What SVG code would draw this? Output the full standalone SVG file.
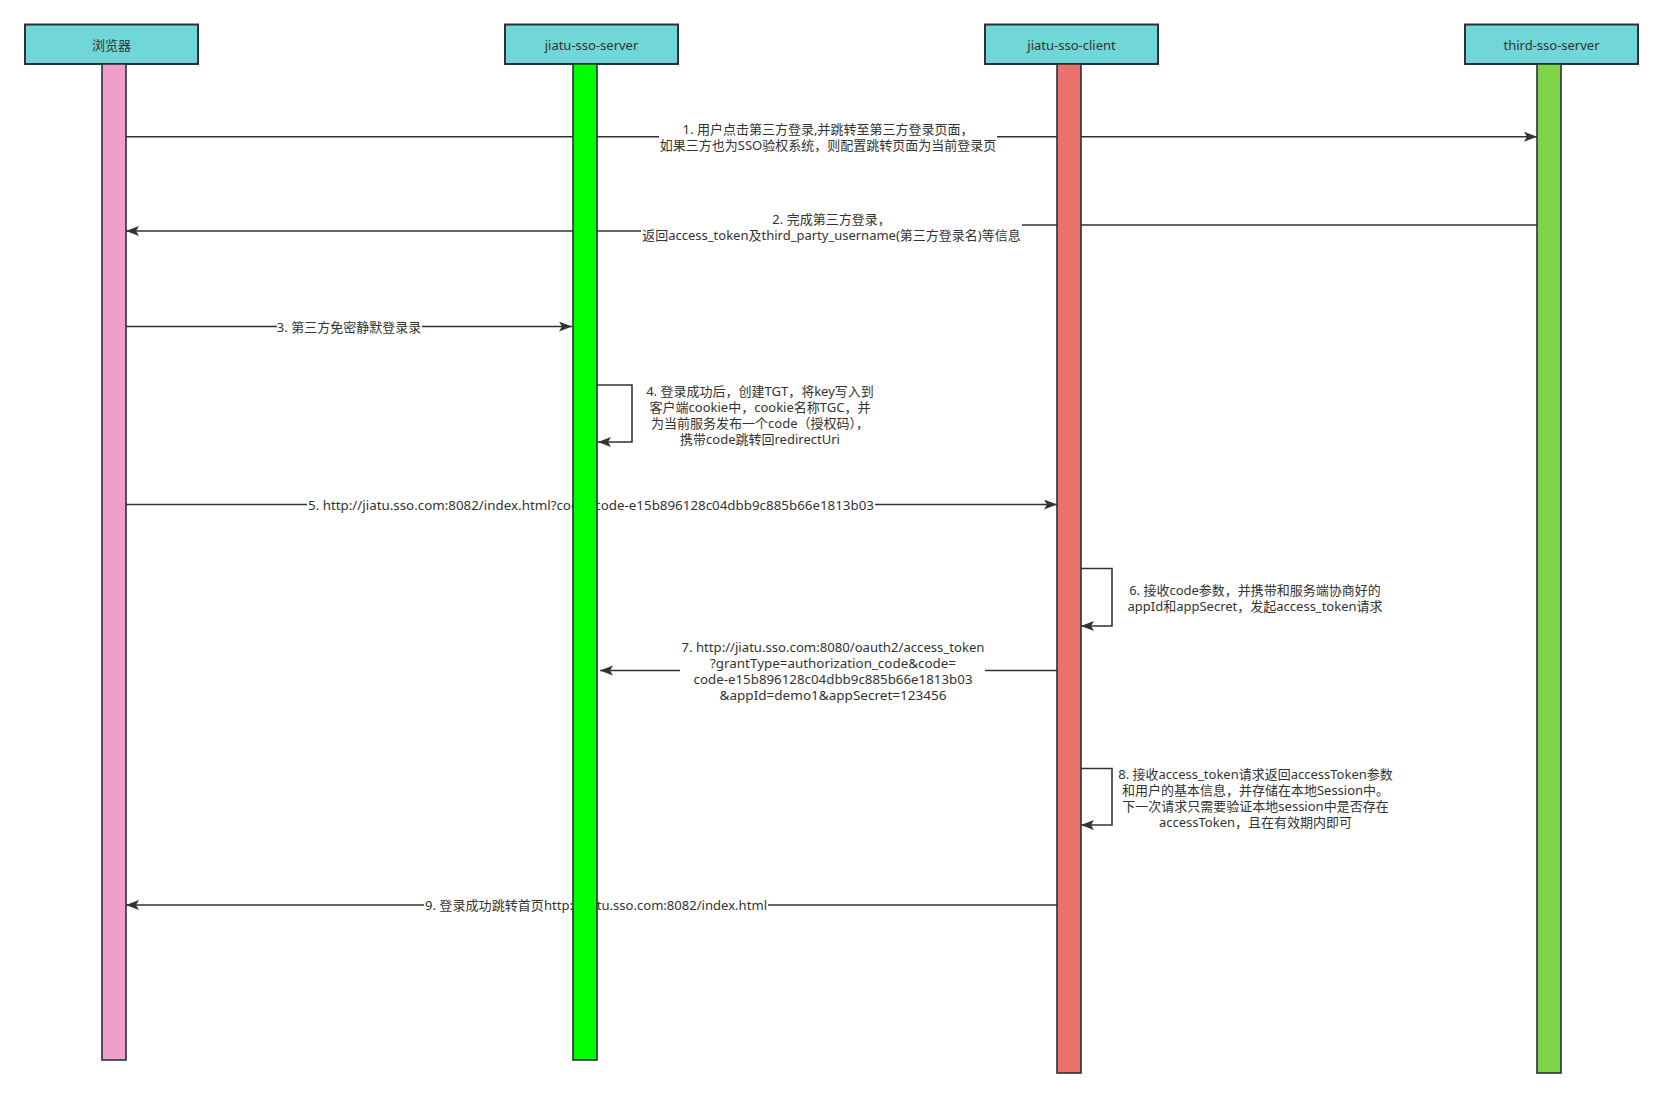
<svg xmlns="http://www.w3.org/2000/svg" width="1662" height="1099" viewBox="0 0 1662 1099">
<style>
text{font-family:"Noto Sans","Noto Sans CJK SC",sans-serif;font-size:13px;fill:#333;}
.c{text-anchor:middle;dominant-baseline:central;}
.hd{fill:#70D6D7;stroke:#263238;stroke-width:2;}
.ll{stroke:#263238;stroke-width:1.6;}
.ln{fill:none;stroke:#333;stroke-width:1.6;}
.bg{fill:#fff;}
</style>
<defs>
<marker id="arr" markerUnits="userSpaceOnUse" markerWidth="14" markerHeight="12" refX="13" refY="5" orient="auto">
<path d="M0,0 L13,5 L0,10 L3,5 Z" fill="#333"/>
</marker>
</defs>
<rect width="1662" height="1099" fill="#fff"/>
<g id="connectors">
<g id="m1"><path class="ln" d="M126,136.7 L1537,136.7" marker-end="url(#arr)"/>
<rect class="bg" x="659" y="120" width="338" height="33"/>
<text class="c" x="828" y="129">1. 用户点击第三方登录,并跳转至第三方登录页面，</text>
<text class="c" x="828" y="145">如果三方也为SSO验权系统，则配置跳转页面为当前登录页</text></g>
<g id="m2"><path class="ln" d="M1537,225 L830,225 L830,231 L126,231" marker-end="url(#arr)"/>
<rect class="bg" x="641" y="210" width="381" height="34"/>
<text class="c" x="831.5" y="219">2. 完成第三方登录，</text>
<text class="c" x="831.5" y="235">返回access_token及third_party_username(第三方登录名)等信息</text></g>
<g id="m3"><path class="ln" d="M126,326.5 L572,326.5" marker-end="url(#arr)"/>
<rect class="bg" x="277" y="318" width="145" height="17"/>
<text class="c" x="349" y="327">3. 第三方免密静默登录录</text></g>
<g id="m4"><path class="ln" d="M597,385 L632,385 L632,442 L598,442" marker-end="url(#arr)"/>
<text class="c" x="760" y="391">4. 登录成功后，创建TGT，将key写入到</text>
<text class="c" x="760" y="407">客户端cookie中，cookie名称TGC，并</text>
<text class="c" x="760" y="423">为当前服务发布一个code（授权码），</text>
<text class="c" x="760" y="439">携带code跳转回redirectUri</text></g>
<g id="m5"><path class="ln" d="M126,504.5 L1057,504.5" marker-end="url(#arr)"/>
<rect class="bg" x="307" y="496" width="568" height="17"/>
<text class="c" x="591" y="505" textLength="566" lengthAdjust="spacingAndGlyphs">5. http://jiatu.sso.com:8082/index.html?code=code-e15b896128c04dbb9c885b66e1813b03</text></g>
<g id="m6"><path class="ln" d="M1081,568.5 L1112,568.5 L1112,626 L1081,626" marker-end="url(#arr)"/>
<text class="c" x="1255" y="590">6. 接收code参数，并携带和服务端协商好的</text>
<text class="c" x="1255" y="606">appId和appSecret，发起access_token请求</text></g>
<g id="m7"><path class="ln" d="M1057,670.5 L600,670.5" marker-end="url(#arr)"/>
<rect class="bg" x="680" y="638" width="305" height="66"/>
<text class="c" x="833" y="647" textLength="303" lengthAdjust="spacingAndGlyphs">7. http://jiatu.sso.com:8080/oauth2/access_token</text>
<text class="c" x="833" y="663" textLength="246" lengthAdjust="spacingAndGlyphs">?grantType=authorization_code&amp;code=</text>
<text class="c" x="833" y="679" textLength="279" lengthAdjust="spacingAndGlyphs">code-e15b896128c04dbb9c885b66e1813b03</text>
<text class="c" x="833" y="695" textLength="227" lengthAdjust="spacingAndGlyphs">&amp;appId=demo1&amp;appSecret=123456</text></g>
<g id="m8"><path class="ln" d="M1081,768.5 L1112,768.5 L1112,825 L1081,825" marker-end="url(#arr)"/>
<text class="c" x="1255.5" y="774">8. 接收access_token请求返回accessToken参数</text>
<text class="c" x="1255.5" y="790">和用户的基本信息，并存储在本地Session中。</text>
<text class="c" x="1255.5" y="806">下一次请求只需要验证本地session中是否存在</text>
<text class="c" x="1255.5" y="822">accessToken，且在有效期内即可</text></g>
<g id="m9"><path class="ln" d="M1057,905 L126,905" marker-end="url(#arr)"/>
<rect class="bg" x="424" y="897" width="344" height="17"/>
<text class="c" x="596" y="905" textLength="342" lengthAdjust="spacingAndGlyphs">9. 登录成功跳转首页http://jiatu.sso.com:8082/index.html</text></g>
</g>
<g id="browser">
<rect class="hd" x="25" y="24.5" width="173" height="39.5"/>
<text class="c" x="111.5" y="44.5">浏览器</text>
<rect class="ll" x="102" y="64" width="24" height="996" fill="#F19EC8"/>
</g>
<g id="jiatu-sso-server">
<rect class="hd" x="505" y="24.5" width="173" height="39.5"/>
<text class="c" x="591.5" y="44.5">jiatu-sso-server</text>
<rect class="ll" x="573" y="64" width="24" height="996" fill="#00FF00"/>
</g>
<g id="jiatu-sso-client">
<rect class="hd" x="985" y="24.5" width="173" height="39.5"/>
<text class="c" x="1071.5" y="44.5">jiatu-sso-client</text>
<rect class="ll" x="1057" y="64" width="24" height="1009" fill="#EA726C"/>
</g>
<g id="third-sso-server">
<rect class="hd" x="1465" y="24.5" width="173" height="39.5"/>
<text class="c" x="1551.5" y="44.5">third-sso-server</text>
<rect class="ll" x="1537" y="64" width="24" height="1009" fill="#7ED348"/>
</g>
</svg>
